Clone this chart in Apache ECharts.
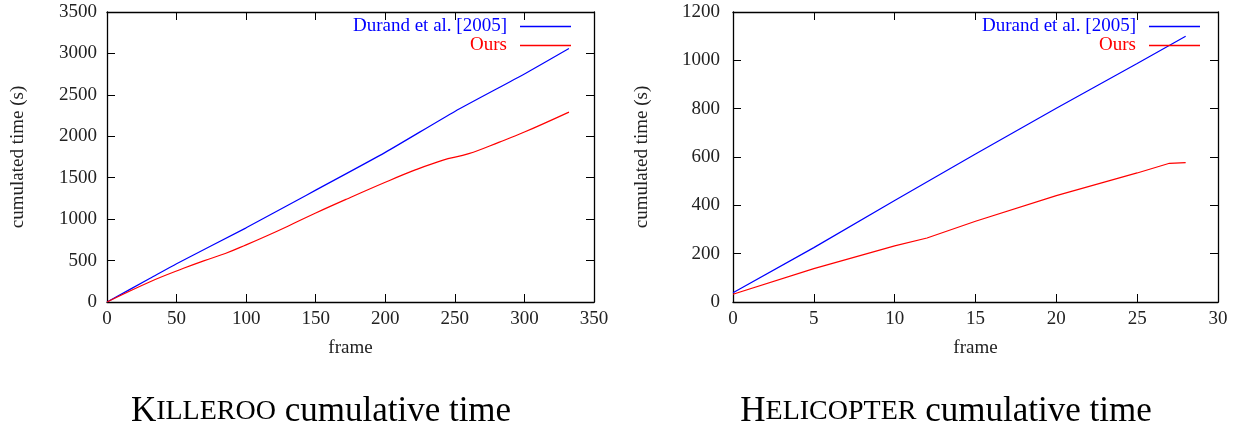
<!DOCTYPE html>
<html>
<head>
<meta charset="utf-8">
<script src="https://cdn.jsdelivr.net/npm/echarts@6/dist/echarts.min.js"></script>
<style>
  html, body { margin: 0; padding: 0; background: #fff; }
  #chart { width: 1239px; height: 425px; }
</style>
</head>
<body>
<div id="chart"></div>
<script>
const seriesNames = ['Durand et al. [2005]', 'Ours']
const seriesColors = ['#0000ff', '#ff0000']

// Killeroo: [frame, cumulated time (s)]
const killerooDurand = [[0, 0], [31, 286], [50, 462], [100, 895], [136, 1222], [150, 1350], [200, 1806], [250, 2300], [300, 2752], [332, 3059]]
const killerooOurs = [[0, 0], [31, 245], [55, 407], [70, 500], [85, 585], [100, 690], [115, 800], [130, 915], [150, 1074], [172, 1240], [200, 1445], [222, 1597], [241, 1710], [260, 1790], [282, 1930], [300, 2051], [332, 2292]]

// Helicopter
const heliDurand = [[0, 38], [5, 225], [10, 420], [15, 612], [20, 802], [25, 987], [28, 1100]]
const heliOurs = [[0, 32], [5, 138], [10, 232], [12, 265], [15, 334], [20, 440], [25, 534], [27, 574], [28, 577]]

const font = 'Liberation Serif'

function xAxes(grid, max, interval) {
  const base = {
    type: 'value', gridIndex: grid, min: 0, max: max, interval: interval,
    axisLine: {onZero: false, lineStyle: {color: '#000', width: 1.3}},
    axisTick: {inside: true, length: 8, lineStyle: {color: '#000', width: 1}},
    splitLine: {show: false}
  }
  return [
    Object.assign({}, base, {
      position: 'bottom',
      name: 'frame', nameLocation: 'middle', nameGap: 37,
      nameTextStyle: {fontFamily: font, fontSize: 19, color: '#222'},
      axisLabel: {margin: 8, fontFamily: font, fontSize: 19, color: '#222', formatter: v => String(v)}
    }),
    Object.assign({}, base, {position: 'top', axisLabel: {show: false}})
  ]
}

function yAxes(grid, max, interval, labelMargin, nameGap) {
  const base = {
    type: 'value', gridIndex: grid, min: 0, max: max, interval: interval,
    axisLine: {onZero: false, lineStyle: {color: '#000', width: 1.3}},
    axisTick: {inside: true, length: 8, lineStyle: {color: '#000', width: 1}},
    splitLine: {show: false}
  }
  return [
    Object.assign({}, base, {
      position: 'left',
      name: 'cumulated time (s)', nameLocation: 'middle', nameGap: nameGap,
      nameTextStyle: {fontFamily: font, fontSize: 19, color: '#222'},
      axisLabel: {margin: labelMargin, fontFamily: font, fontSize: 19, color: '#222', formatter: v => String(v)}
    }),
    Object.assign({}, base, {position: 'right', axisLabel: {show: false}})
  ]
}

function legend(right) {
  return {
    orient: 'vertical', align: 'right', right: right, top: 17, padding: 0,
    itemGap: 0, itemWidth: 51, itemHeight: 1.3, icon: 'rect',
    selectedMode: false,
    textStyle: {fontFamily: font, fontSize: 19, padding: [0, 8, 0, 0]},
    data: seriesNames.map((n, i) => ({name: n, textStyle: {color: seriesColors[i]}}))
  }
}

function line(name, data, xi, yi, smooth) {
  const i = seriesNames.indexOf(name)
  return {
    type: 'line', name: name, data: data, xAxisIndex: xi, yAxisIndex: yi,
    showSymbol: false, smooth: smooth, color: seriesColors[i],
    lineStyle: {width: 1.2, color: seriesColors[i]}
  }
}

const captionRich = {
  cap: {fontFamily: font, fontSize: 35, fontWeight: 'normal', color: '#000'},
  sc: {fontFamily: font, fontSize: 28, fontWeight: 'normal', color: '#000'}
}

const chart = echarts.init(document.getElementById('chart'))
chart.setOption({
  animation: false,
  title: [
    {
      left: 316, top: 389, textAlign: 'center',
      text: '{cap|K}{sc|ILLEROO}{cap| cumulative time}',
      textStyle: {fontWeight: 'normal', rich: captionRich}
    },
    {
      left: 941, top: 389, textAlign: 'center',
      text: '{cap|H}{sc|ELICOPTER}{cap| cumulative time}',
      textStyle: {fontWeight: 'normal', rich: captionRich}
    }
  ],
  legend: [legend(1239 - 571), legend(1239 - 1200)],
  grid: [
    {left: 107, top: 12, width: 487, height: 290},
    {left: 733, top: 12, width: 485, height: 290}
  ],
  xAxis: [...xAxes(0, 350, 50), ...xAxes(1, 30, 5)],
  yAxis: [...yAxes(0, 3500, 500, 10, 79), ...yAxes(1, 1200, 200, 13, 81)],
  series: [
    line('Durand et al. [2005]', killerooDurand, 0, 0, 0.2),
    line('Ours', killerooOurs, 0, 0, 0.4),
    line('Durand et al. [2005]', heliDurand, 2, 2, false),
    line('Ours', heliOurs, 2, 2, false)
  ]
})
</script>
</body>
</html>
